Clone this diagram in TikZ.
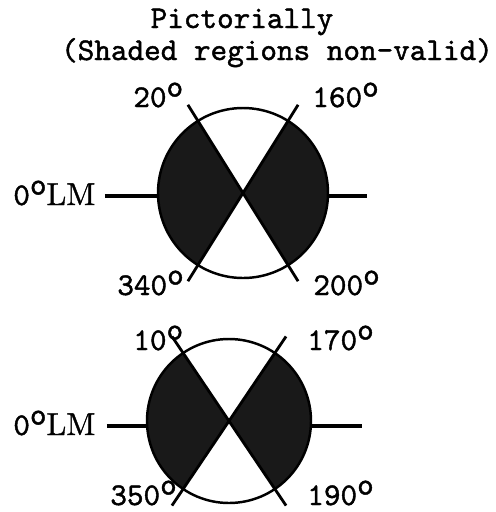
\documentclass[tikz,border=0pt]{standalone}
\usepackage{fontspec}
\usepackage{tikz}

\newfontfamily\twfont{lmmono10-regular.otf}[FakeBold=1.3]
\newfontfamily\lmfont{lmroman10-regular.otf}[FakeBold=1.0]

\tikzset{
  lbl/.style={font=\fontsize{18}{20}\twfont, anchor=base west, inner sep=0pt},
  rim/.style={line width=1.4pt},
  cut/.style={line width=1.6pt},
  stub/.style={line width=2.8pt},
  bad/.style={fill=black!90},
}
\newcommand{\dg}{\raisebox{.33em}{o}}

\begin{document}
\begin{tikzpicture}[x=0.02cm, y=-0.02cm]
\useasboundingbox (0,0) rectangle (496,512);

% ── Title ──
\node[lbl, anchor=base] (ttl) at (242,28) {Pictorially};
\node[lbl, anchor=base] (sub) at (277,60) {(Shaded regions non-valid)};

% ── Upper dial (20 / 160 / 200 / 340) ──
\coordinate (cA) at (243,193);
\fill[bad] (cA) -- +(-58:85) arc[start angle=-58, end angle=58, radius=85] -- cycle;
\fill[bad] (cA) -- +(122:85) arc[start angle=122, end angle=238, radius=85] -- cycle;
\draw[rim] (cA) circle[radius=85];
\path (cA) +(238:104) coordinate (a20)  +(302:104) coordinate (a160)
           +(122:104) coordinate (a340) +(58:104)  coordinate (a200);
\draw[cut] (a20) -- (a200);
\draw[cut] (a160) -- (a340);
\coordinate (aW0) at (105,196); \coordinate (aW) at (158,196);
\coordinate (aE) at (328,196);  \coordinate (aE0) at (367,196);
\draw[stub] (aW0) -- (aW);
\draw[stub] (aE) -- (aE0);

\node[lbl] (l20)  at (133,107) {20\dg};
\node[lbl] (l160) at (312,107) {160\dg};
\node[lbl] (lmA)  at (13,205)  {0\dg\lmfont LM};
\node[lbl] (l340) at (117,295) {340\dg};
\node[lbl] (l200) at (313,295) {200\dg};

% ── Lower dial (10 / 170 / 190 / 350) ──
\coordinate (cB) at (229,421);
\fill[bad] (cB) -- +(-56:82) arc[start angle=-56, end angle=56, radius=82] -- cycle;
\fill[bad] (cB) -- +(124:82) arc[start angle=124, end angle=236, radius=82] -- cycle;
\draw[rim] (cB) circle[radius=82];
\path (cB) +(236:102) coordinate (b10)  +(304:102) coordinate (b170)
           +(124:102) coordinate (b350) +(56:102)  coordinate (b190);
\draw[cut] (b10) -- (b190);
\draw[cut] (b170) -- (b350);
\coordinate (bW0) at (107,426); \coordinate (bW) at (147,426);
\coordinate (bE) at (311,426);  \coordinate (bE0) at (362,426);
\draw[stub] (bW0) -- (bW);
\draw[stub] (bE) -- (bE0);

\node[lbl] (l10)  at (133,350) {10\dg};
\node[lbl] (l170) at (307,350) {170\dg};
\node[lbl] (lmB)  at (13,435)  {0\dg\lmfont LM};
\node[lbl] (l350) at (110,505) {350\dg};
\node[lbl] (l190) at (307,505) {190\dg};

\end{tikzpicture}
\end{document}
